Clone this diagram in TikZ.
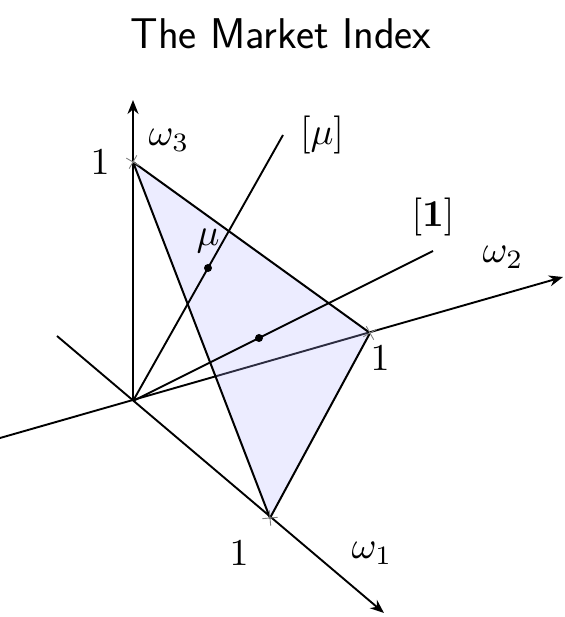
\documentclass[tikz,border=0pt]{standalone}
\usetikzlibrary{arrows.meta,shapes.misc}
\begin{document}
\begin{tikzpicture}[x=1pt,y=1pt,
  axis/.style={line width=1.9pt,-{Stealth[length=14pt,width=11pt]}},
  ray/.style={line width=1.9pt},
  edge/.style={line width=2pt},
  lbl/.style={font=\normalsize,scale=3.8,inner sep=0pt},
  tick/.style={cross out,draw=gray,line width=0.9pt,minimum size=10pt,inner sep=0pt},
  dotnode/.style={circle,fill=black,inner sep=0pt,minimum size=8pt},
  tfill/.style={fill=blue!30,fill opacity=0.25}]
\useasboundingbox (0,0) rectangle (564,617);
% coordinates
\coordinate (O) at (133,216);
\coordinate (w3s) at (133,216);
\coordinate (w3e) at (133,517);
\coordinate (w2s) at (0,179);
\coordinate (w2e) at (563,340);
\coordinate (w1s) at (57,281);
\coordinate (w1e) at (384,4);
\coordinate (A) at (133,455);
\coordinate (B) at (370,284);
\coordinate (C) at (270,99);
\coordinate (mue) at (283,482);
\coordinate (onee) at (433,366);
% title
\node[font=\sffamily\fontsize{43}{48}\selectfont,inner sep=0pt] (title) at (281,583) {The Market Index};
% omega2 axis (under the fill)
\draw[axis] (w2s) -- (w2e);
% triangle fill
\path[tfill] (A) -- (B) -- (C) -- cycle;
% other axes
\draw[axis] (w3s) -- (w3e);
\draw[axis] (w1s) -- (w1e);
% rays
\draw[ray] (O) -- (mue);
\draw[ray] (O) -- (onee);
% triangle edges
\draw[edge,line join=round] (A) -- (B) -- (C) -- cycle;
% ticks
\node[tick,rotate=15] (tA) at (A) {};
\node[tick,rotate=-16] (tB) at (B) {};
\node[tick,rotate=-40] (tC) at (C) {};
% dots
\node[dotnode] (mu) at (208,349) {};
\node[dotnode] (one) at (259,279) {};
% labels
\node[lbl] (l1a) at (100,455) {$1$};
\node[lbl] (lw3) at (169,477) {$\omega_3$};
\node[lbl] (lmu) at (322,482) {$[\mu]$};
\node[lbl] (lone) at (433,400) {$[\mathbf{1}]$};
\node[lbl] (lw2) at (503,360) {$\omega_2$};
\node[lbl] (l1b) at (380,259) {$1$};
\node[lbl] (l1c) at (239,64) {$1$};
\node[lbl] (lw1) at (372,64) {$\omega_1$};
\node[lbl] (lmulab) at (208,376) {$\mu$};
\end{tikzpicture}
\end{document}
